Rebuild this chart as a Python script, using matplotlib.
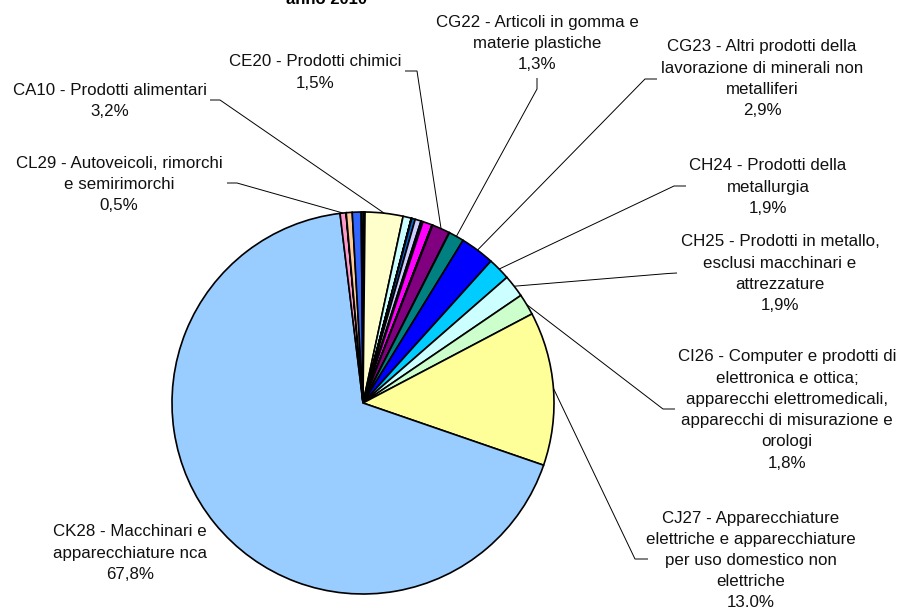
import matplotlib
matplotlib.use("Agg")
import matplotlib.pyplot as plt
import numpy as np

plt.rcParams['font.family'] = ['Liberation Sans', 'DejaVu Sans']

# ---------------- data ----------------
codes = ["B05", "B08", "CA10", "CA11", "CA12", "CB13", "CB14", "CB15", "CC16", "CC17",
         "CC18", "CD19", "CE20", "CF21", "CG22", "CG23", "CH24", "CH25", "CI26", "CJ27",
         "CK28", "CL29", "CL30", "CM31", "CM32", "CM33"]
values = [0.07, 0.10, 3.2, 0.7, 0.01, 0.03, 0.3, 0.5, 0.18, 0.8,
          0.01, 0.05, 1.5, 0.03, 1.3, 2.9, 1.9, 1.9, 1.8, 13.0,
          67.8, 0.5, 0.02, 0.5, 0.75, 0.15]
colors = ["#9999FF", "#993366", "#FFFFCC", "#CCFFFF", "#660066", "#FF8080", "#0066CC", "#CCCCFF",
          "#000080", "#FF00FF", "#FFFF00", "#00FFFF", "#800080", "#800000", "#008080", "#0000FF",
          "#00CCFF", "#CCFFFF", "#CCFFCC", "#FFFF99", "#99CCFF", "#FF99CC", "#CC99FF", "#FFCC99",
          "#3366FF", "#33CCCC"]

label_text = {
    "CA10": ["CA10 - Prodotti alimentari"],
    "CE20": ["CE20 - Prodotti chimici"],
    "CG22": ["CG22 - Articoli in gomma e", "materie plastiche"],
    "CG23": ["CG23 - Altri prodotti della", "lavorazione di minerali non", "metalliferi"],
    "CH24": ["CH24 - Prodotti della", "metallurgia"],
    "CH25": ["CH25 - Prodotti in metallo,", "esclusi macchinari e", "attrezzature"],
    "CI26": ["CI26 - Computer e prodotti di", "elettronica e ottica;",
             "apparecchi elettromedicali,", "apparecchi di misurazione e", "orologi"],
    "CJ27": ["CJ27 - Apparecchiature", "elettriche e apparecchiature",
             "per uso domestico non", "elettriche"],
    "CK28": ["CK28 - Macchinari e", "apparecchiature nca"],
    "CL29": ["CL29 - Autoveicoli, rimorchi", "e semirimorchi"],
}
title = "anno 2010"

# ---------------- layout (image pixel coords, y downward) ----------------
W, H = 900, 607
CX, CY, R = 363, 403, 191
label_pos = {
    "CA10": (110, 90.5), "CE20": (315, 62), "CG22": (537, 22), "CG23": (762, 47),
    "CH24": (768, 166), "CH25": (780, 242), "CI26": (787, 357), "CJ27": (751, 518),
    "CK28": (130, 532), "CL29": (119, 163),
}
stubs = {
    "CA10": ((210, 100), (220, 100)),
    "CE20": ((405, 71), (417, 71)),
    "CG22": ((537, 78), (537, 89)),
    "CG23": ((657, 79), (645, 79)),
    "CH24": ((686, 186), (674, 186)),
    "CH25": ((677, 273), (668, 273.5)),
    "CI26": ((675, 409), (663, 409)),
    "CJ27": ((648, 559), (635, 559)),
    "CL29": ((227, 183), (237, 183)),
}
STEP = 21.2

fig = plt.figure(figsize=(W / 100, H / 100), dpi=100)
ax = fig.add_axes([0, 0, 1, 1])

def Y(y):
    return H - y

wedges, _ = ax.pie(values, colors=colors, startangle=90, counterclock=False,
                   center=(CX, Y(CY)), radius=R, frame=True,
                   wedgeprops=dict(edgecolor="black", linewidth=1.2))
ax.set_xlim(0, W)
ax.set_ylim(0, H)
ax.set_aspect("auto")
ax.axis("off")

total = sum(values)
for code, lines in label_text.items():
    i = codes.index(code)
    pct = f"{values[i] / total * 100:.1f}".replace(".", ",") + "%"
    cx, y0 = label_pos[code]
    for k, line in enumerate(lines + [pct]):
        ax.text(cx, Y(y0 + k * STEP), line, ha="center", va="center",
                fontsize=12.2, color="#111111")
    if code in stubs:
        w = wedges[i]
        mid = np.deg2rad((w.theta1 + w.theta2) / 2)
        px = CX + R * np.cos(mid)
        py = Y(CY) + R * np.sin(mid)
        (x0, y0s), (x1, y1s) = stubs[code]
        ax.plot([x0, x1, px], [Y(y0s), Y(y1s), py], color="black", lw=0.7,
                solid_capstyle="butt", zorder=5)

ax.text(327, Y(6.5), title, ha="center", va="bottom", fontsize=12, fontweight="bold")

fig.savefig("out.png", dpi=100)
